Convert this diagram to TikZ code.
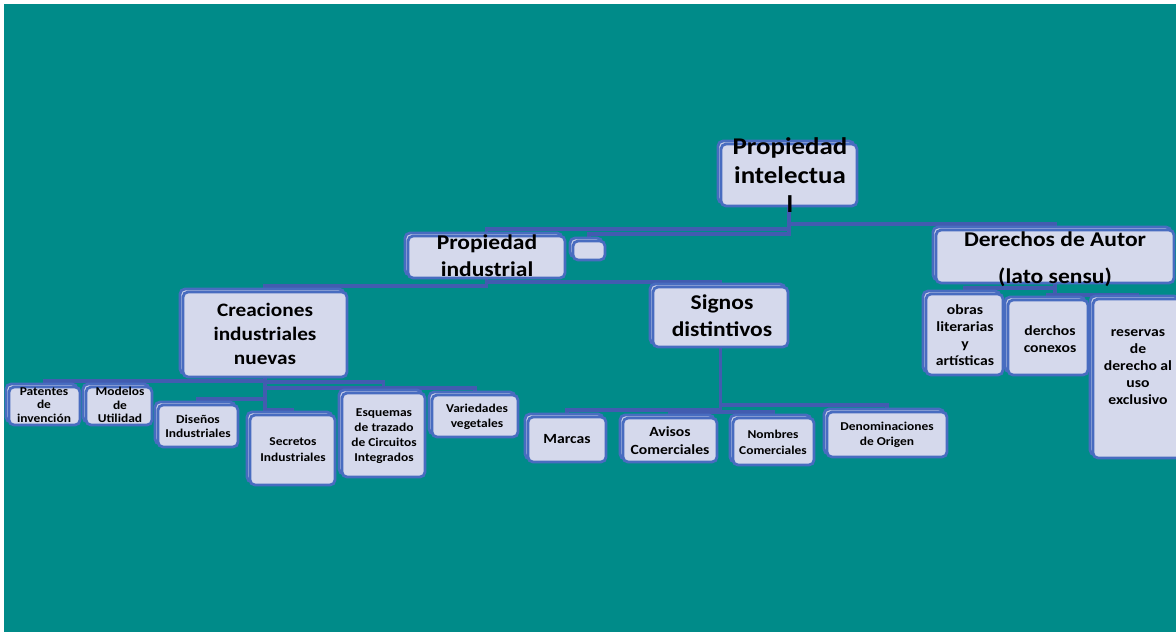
\documentclass[tikz,border=0pt]{standalone}
\usepackage{fontspec}
\setmainfont{Carlito}[FakeStretch=1.12]
\usetikzlibrary{calc}
\definecolor{sea}{RGB}{0,139,137}
\definecolor{boxfill}{RGB}{213,217,236}
\definecolor{boxedge}{RGB}{72,108,192}
\definecolor{wire}{RGB}{66,92,176}
\pgfdeclarelayer{under}
\pgfsetlayers{under,main}
\tikzset{
  boxface/.style={draw=boxedge, fill=boxfill, line width=2.8pt, rounded corners=5pt, inner sep=0pt},
  txt/.style={inner sep=0pt, align=center, text=black},
  wireline/.style={draw=wire, line width=3.2pt}
}
% box with a stacked copy behind it: name, x1, y1, x2, y2
\newcommand{\boxpair}[5]{%
  \node[boxface, minimum width={#4pt-#2pt}, minimum height={#5pt-#3pt}] (#1-back) at ({(#2+#4)/2-3},{(#3+#5)/2-3}) {};
  \node[boxface, minimum width={#4pt-#2pt}, minimum height={#5pt-#3pt}] (#1) at ({(#2+#4)/2},{(#3+#5)/2}) {};}
% text of a box: name, x, y, size, line skip, text
\newcommand{\boxtext}[6]{%
  \node[txt, font={\fontsize{#4}{#5}\selectfont\bfseries}] (#1-t) at (#2,#3) {#6};}
\begin{document}
\begin{tikzpicture}[x=1pt,y=-1pt]
\useasboundingbox (0,0) rectangle (1176,632);
\begin{pgfonlayer}{under}
  \fill[white] (0,0) rectangle (1176,632);
  \fill[sea] (4,4) rectangle (1176,632);
\end{pgfonlayer}

% boxes
\boxpair{PI}{721}{144}{857}{206}
\boxpair{PInd}{408}{236}{565}{278}
\boxpair{EMPTY}{573}{241}{605}{260}
\boxpair{DA}{936}{230}{1174}{283}
\boxpair{CIN}{183}{292}{347}{377}
\boxpair{SD}{653}{287}{788}{347}
\boxpair{OBR}{926}{294}{1003}{375}
\boxpair{DCX}{1008}{300}{1088}{375}
\boxpair{RES}{1093}{299}{1182}{458}
\boxpair{PAT}{9}{387}{80}{425}
\boxpair{MOD}{86}{387}{152}{425}
\boxpair{DIS}{158}{405}{238}{447}
\boxpair{SEC}{250}{415}{335}{485}
\boxpair{ESQ}{342}{393}{425}{477}
\boxpair{VAR}{432}{395}{518}{437}
\boxpair{MAR}{528}{417}{606}{462}
\boxpair{AVI}{623}{418}{717}{462}
\boxpair{NOM}{733}{418}{814}{465}
\boxpair{DEN}{827}{412}{947}{457}

% texts
\boxtext{PI}{790}{175}{24}{29}{Propiedad\\intelectua\\l}
\boxtext{PInd}{487}{256}{21}{27}{Propiedad\\industrial}
\boxtext{DA}{1055}{259}{21}{37}{Derechos de Autor\\(lato sensu)}
\boxtext{CIN}{265}{334}{19}{24}{Creaciones\\industriales\\nuevas}
\boxtext{SD}{722}{316}{21}{27}{Signos\\distintivos}
\boxtext{OBR}{965}{335}{14}{17}{obras\\literarias\\y\\artísticas}
\boxtext{DCX}{1050}{339}{14}{17}{derchos\\conexos}
\boxtext{RES}{1138}{367}{14}{17}{reservas\\de\\derecho al\\uso\\exclusivo}
\boxtext{MAR}{567}{439.5}{14}{17}{Marcas}
\boxtext{AVI}{670}{440.5}{14}{18}{Avisos\\Comerciales}
\boxtext{NOM}{773}{442}{12}{16}{Nombres\\Comerciales}
\boxtext{DEN}{887}{434.5}{12}{15}{Denominaciones\\de Origen}
\boxtext{PAT}{44}{405}{12}{13.5}{Patentes\\de\\invención}
\boxtext{MOD}{120}{405}{12}{13.5}{Modelos\\de\\Utilidad}
\boxtext{DIS}{198}{426}{12}{14}{Diseños\\Industriales}
\boxtext{SEC}{293}{450}{12}{16}{Secretos\\Industriales}
\boxtext{ESQ}{384}{436.5}{12}{15}{Esquemas\\de trazado\\de Circuitos\\Integrados}
\boxtext{VAR}{477}{417}{12}{14.5}{Variedades\\vegetales}

% connectors
\begin{pgfonlayer}{under}
  \draw[wireline] (PI.south) -- (PI.south |- 0,224) -| (DA.north);
  \draw[wireline] (PI.south) -- (PI.south |- 0,229) -| (PInd.north);
  \draw[wireline] (PI.south) -- (PI.south |- 0,234) -| (EMPTY.north);
  \draw[wireline] (PInd.south) -- (PInd.south |- 0,286) -| (CIN.north);
  \draw[wireline] (PInd.south) -- (PInd.south |- 0,282) -| (SD.north);
  \draw[wireline] (DA.south) -- (DA.south |- 0,288) -| (OBR.north);
  \draw[wireline] (DA.south) -- (DA.south |- 0,295) -| (DCX.north);
  \draw[wireline] (DA.south) -- (DA.south |- 0,295) -| (RES.north);
  \draw[wireline] (CIN.south) -- (CIN.south |- 0,381) -| (PAT.north);
  \draw[wireline] (CIN.south) -- (CIN.south |- 0,381) -| (MOD.north);
  \draw[wireline] (CIN.south) -- (CIN.south |- 0,399) -| (DIS.north);
  \draw[wireline] (CIN.south) -- (CIN.south |- 0,382) -| (ESQ.north);
  \draw[wireline] (CIN.south) -- (CIN.south |- 0,388) -| (VAR.north);
  \draw[wireline] (CIN.south) -- (CIN.south |- 0,410) -| (SEC.north);
  \draw[wireline] (SD.south) -- (SD.south |- 0,405) -| (DEN.north);
  \draw[wireline] (SD.south) -- (SD.south |- 0,410) -| (MAR.north);
  \draw[wireline] (SD.south) -- (SD.south |- 0,412) -| (AVI.north);
  \draw[wireline] (SD.south) -- (SD.south |- 0,412) -| (NOM.north);
\end{pgfonlayer}
\end{tikzpicture}
\end{document}
